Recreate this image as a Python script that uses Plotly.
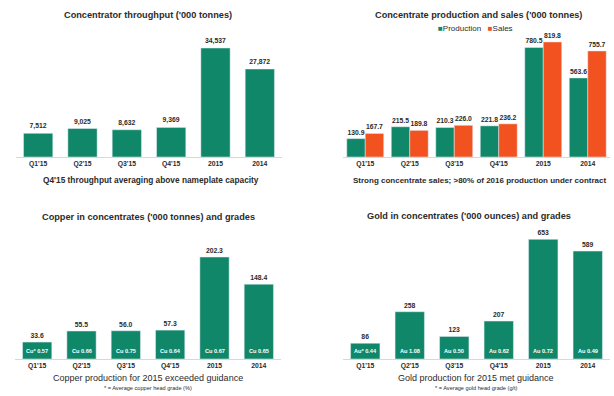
import plotly.graph_objects as go

# ---- data ----
categories = ["Q1'15", "Q2'15", "Q3'15", "Q4'15", "2015", "2014"]
throughput = [7512, 9025, 8632, 9369, 34537, 27872]
concentrate_production = [130.9, 215.5, 210.3, 221.8, 780.5, 563.6]
concentrate_sales = [167.7, 189.8, 226.0, 236.2, 819.8, 755.7]
copper = [33.6, 55.5, 56.0, 57.3, 202.3, 148.4]
copper_grades = ["Cu* 0.57", "Cu 0.66", "Cu 0.75", "Cu 0.64", "Cu 0.67", "Cu 0.65"]
gold = [86, 258, 123, 207, 653, 589]
gold_grades = ["Au* 0.44", "Au 1.08", "Au 0.50", "Au 0.62", "Au 0.72", "Au 0.49"]

titles = [
    "Concentrator throughput ('000 tonnes)",
    "Concentrate production and sales ('000 tonnes)",
    "Copper in concentrates ('000 tonnes) and grades",
    "Gold in concentrates ('000 ounces) and grades",
]
subtitles = [
    "Q4'15 throughput averaging above nameplate capacity",
    "Strong concentrate sales; >80% of 2016 production under contract",
    "Copper production for 2015 exceeded guidance",
    "Gold production for 2015 met guidance",
]
footnotes = ["* = Average copper head grade (%)", "* = Average gold head grade (g/t)"]
series_names = ["Production", "Sales"]

GREEN = "#11876a"
ORANGE = "#f2521f"
TEXT = "#2b2b2b"
FONT = "Liberation Sans"

W, H = 614, 396


def px_x(v):
    return v / W


def px_y(v):
    return 1 - v / H


fig = go.Figure()

# panel geometry in pixels: (x0, x1, baseline, top)
panels = {
    1: (16, 282, 157, 30),
    2: (343, 610, 157, 30),
    3: (15, 281, 359, 235),
    4: (343, 610, 359, 228),
}
# data ceiling for each panel
ymax = {1: 40240, 2: 905, 3: 246, 4: 715}

val_font = dict(family=FONT, size=6.8, color=TEXT)

fig.add_trace(go.Bar(x=categories, y=throughput, marker_color=GREEN, width=0.66,
                     text=[f"<b>{v:,}</b>" for v in throughput], textposition="outside",
                     textfont=val_font, cliponaxis=False,
                     xaxis="x", yaxis="y"))
fig.add_trace(go.Bar(x=categories, y=concentrate_production, marker_color=GREEN,
                     name=series_names[0], offsetgroup="p",
                     text=[f"<b>{v:.1f}</b>" for v in concentrate_production],
                     textposition="outside", textfont=val_font, cliponaxis=False,
                     xaxis="x2", yaxis="y2"))
fig.add_trace(go.Bar(x=categories, y=concentrate_sales, marker_color=ORANGE,
                     name=series_names[1], offsetgroup="s",
                     text=[f"<b>{v:.1f}</b>" for v in concentrate_sales],
                     textposition="outside", textfont=val_font, cliponaxis=False,
                     xaxis="x2", yaxis="y2"))
fig.add_trace(go.Bar(x=categories, y=copper, marker_color=GREEN, width=0.66,
                     text=[f"<b>{v:.1f}</b>" for v in copper], textposition="outside",
                     textfont=val_font, cliponaxis=False,
                     xaxis="x3", yaxis="y3"))
fig.add_trace(go.Bar(x=categories, y=gold, marker_color=GREEN, width=0.66,
                     text=[f"<b>{v}</b>" for v in gold], textposition="outside",
                     textfont=val_font, cliponaxis=False,
                     xaxis="x4", yaxis="y4"))

layout = dict(
    width=W, height=H, margin=dict(l=0, r=0, t=0, b=0),
    paper_bgcolor="white", plot_bgcolor="white",
    barmode="group", bargap=0.17, bargroupgap=0,
    font=dict(family=FONT, color=TEXT),
    showlegend=False,
)

for i, (x0, x1, base, top) in panels.items():
    sfx = "" if i == 1 else str(i)
    layout["xaxis" + sfx] = dict(
        domain=[px_x(x0), px_x(x1)], anchor="y" + sfx, showgrid=False,
        type="category", categoryorder="array", categoryarray=categories,
        range=[-0.5, len(categories) - 0.5],
        showline=True, linecolor="#d8d8d8", linewidth=1, ticks="",
        tickfont=dict(family=FONT, size=6.8, color=TEXT, weight="bold"),
        fixedrange=True,
    )
    layout["yaxis" + sfx] = dict(
        domain=[px_y(base), px_y(top)], anchor="x" + sfx, range=[0, ymax[i]],
        visible=False, fixedrange=True,
    )

fig.update_layout(**layout)


def note(x, y, text, size, **kw):
    fig.add_annotation(x=px_x(x), y=px_y(y), xref="paper", yref="paper",
                       xanchor="center", yanchor="middle", text=text,
                       showarrow=False, font=dict(family=FONT, size=size, color=TEXT),
                       **kw)


# titles, subtitles and footnotes
title_pos = [(148, 15), (478, 15), (148, 217), (469, 216)]
sub_pos = [(151, 180), (480, 180), (148, 378), (476, 378)]
sub_sizes = [8.3, 8.0, 9, 9]
for (tx, ty), t in zip(title_pos, titles):
    note(tx, ty, f"<b>{t}</b>", 9.2)
for k, ((sx, sy), s) in enumerate(zip(sub_pos, subtitles)):
    note(sx, sy, f"<b>{s}</b>" if k < 2 else s, sub_sizes[k])
for (fx, fy), f in zip([(148, 388), (476, 388)], footnotes):
    note(fx, fy, f, 5.6)

# legend for the production / sales panel
note(475, 29,
     f'<span style="color:{GREEN}">■</span>{series_names[0]}'
     f'&nbsp;&nbsp;&nbsp;<span style="color:{ORANGE}">■</span>{series_names[1]}', 8)

# grade labels inside the bar bases
for xr, yr, labels in [("x3", "y3", copper_grades), ("x4", "y4", gold_grades)]:
    for idx, lab in enumerate(labels):
        fig.add_annotation(x=idx, y=0, xref=xr, yref=yr, text=f"<b>{lab}</b>",
                           showarrow=False, yanchor="bottom", yshift=3,
                           font=dict(family=FONT, size=5.6, color="white"))

fig.write_html("out.html")
